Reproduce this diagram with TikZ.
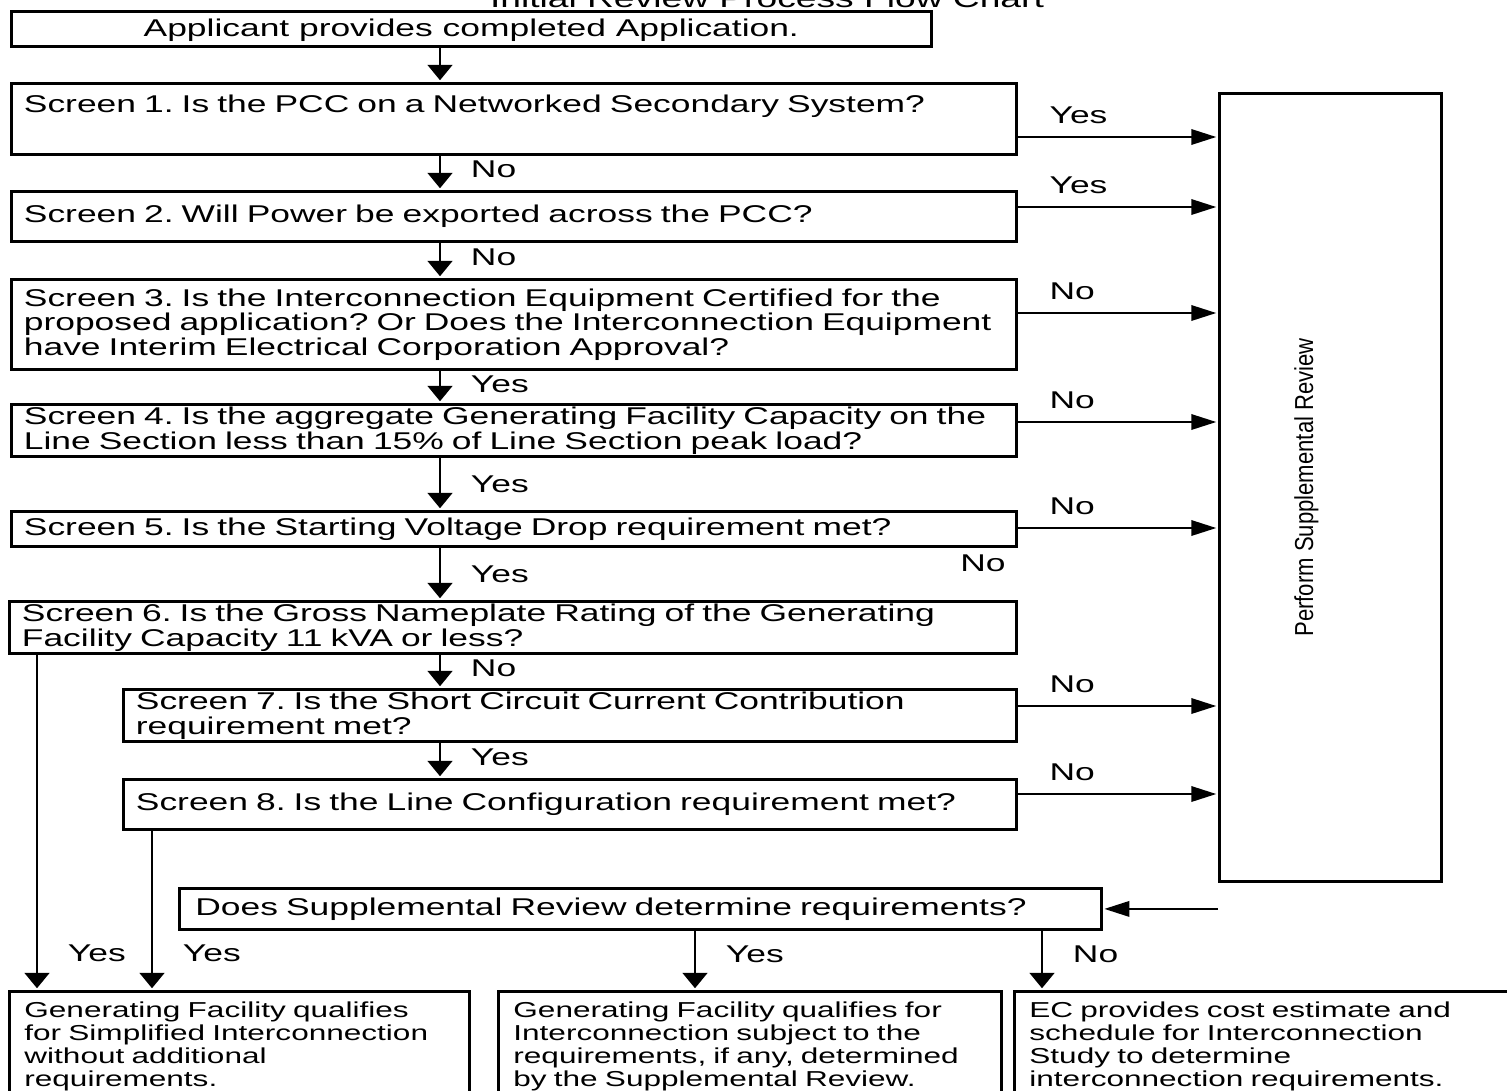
\documentclass[tikz,border=0pt]{standalone}
\usepackage{fontspec}
\setmainfont{Liberation Sans}[FakeStretch=1.46]
\newfontfamily\narrowsans{Liberation Sans}[FakeStretch=0.85]
\usepackage{graphicx}
\usetikzlibrary{arrows.meta}
\frenchspacing

\newcommand{\screenfont}{\fontsize{13.8pt}{14pt}\selectfont}
\newcommand{\resultfont}{\fontsize{12.3pt}{13pt}\selectfont}
\newcommand{\headfont}{\fontsize{14.5pt}{16pt}\selectfont}
\newcommand{\psrfont}{\narrowsans\fontsize{14.8pt}{16pt}\selectfont}

\tikzset{
  screen/.style={draw, line width=1.6pt, anchor=north west, align=left,
                 inner xsep=0.25cm, inner ysep=0.05cm, text width=19.6cm},
  result/.style={draw, line width=1.6pt, anchor=north west, align=left,
                 inner xsep=0.3cm, inner ysep=0.13cm, minimum height=2.2cm, font=\resultfont},
  lbl/.style={inner sep=0pt, text depth=0pt},
  vlbl/.style={lbl, inner xsep=0.6cm},
  hlbl/.style={lbl, anchor=south west, yshift=0.26cm, pos=0.155},
  across/.style={-{Triangle[length=0.5cm, width=0.31cm]}}
}

\begin{document}
\begin{tikzpicture}[x=0.02cm, y=-0.02cm, ->, >={Triangle[length=0.31cm, width=0.5cm]},
                    shorten >=1pt, auto, line width=1.1pt, font=\screenfont]

  \useasboundingbox (0,0) rectangle (1507,1090);

  \node[font=\headfont, anchor=base] (title) at (767,7) {Initial Review Process Flow Chart};

  \node[draw, line width=1.6pt, anchor=north west, inner sep=0pt, text depth=0.05cm,
        minimum width=18.4cm, minimum height=0.7cm] (app) at (10,10) {Applicant provides completed Application.};

  % screens
  \node[screen, minimum height=1.42cm, text height=0.54cm, text depth=0.78cm] (s1) at (10,82)
    {Screen 1. Is the PCC on a Networked Secondary System?};
  \node[screen, minimum height=1.0cm] (s2) at (10,190)
    {Screen 2. Will Power be exported across the PCC?};
  \node[screen, minimum height=1.8cm] (s3) at (10,278)
    {Screen 3. Is the Interconnection Equipment Certified for the\\
     proposed application? Or Does the Interconnection Equipment\\
     have Interim Electrical Corporation Approval?};
  \node[screen, minimum height=1.04cm] (s4) at (10,403)
    {Screen 4. Is the aggregate Generating Facility Capacity on the\\
     Line Section less than 15\% of Line Section peak load?};
  \node[screen, minimum height=0.7cm] (s5) at (10,510)
    {Screen 5. Is the Starting Voltage Drop requirement met?};
  \node[screen, minimum height=1.04cm, text width=19.64cm] (s6) at (8,600)
    {Screen 6. Is the Gross Nameplate Rating of the Generating\\
     Facility Capacity 11 kVA or less?};
  \node[screen, minimum height=1.04cm, text width=17.36cm] (s7) at (122,688)
    {Screen 7. Is the Short Circuit Current Contribution\\
     requirement met?};
  \node[screen, minimum height=1.0cm, text width=17.36cm] (s8) at (122,778)
    {Screen 8. Is the Line Configuration requirement met?};

  \node[draw, line width=1.6pt, anchor=north west, inner sep=0pt,
        minimum width=4.44cm, minimum height=15.76cm, font=\psrfont] (psr) at (1218,92)
    {\rotatebox{90}{Perform Supplemental Review}\hspace*{0.96cm}};

  \node[screen, minimum height=0.82cm, inner xsep=0.32cm, text width=17.8cm] (does) at (178,887)
    {Does Supplemental Review determine requirements?};

  % outcomes
  \node[result, text width=8.6cm] (gfa) at (8,990)
    {Generating Facility qualifies\\ for Simplified Interconnection\\ without additional\\ requirements.};
  \node[result, text width=9.46cm] (gfb) at (497,990)
    {Generating Facility qualifies for\\ Interconnection subject to the\\ requirements, if any, determined\\ by the Supplemental Review.};
  \node[result, text width=9.4cm] (gfc) at (1013,990)
    {EC provides cost estimate and\\ schedule for Interconnection\\ Study to determine\\ interconnection requirements.};

  \node[lbl] (strayno) at (983,563) {No};

  \coordinate (spine) at (440,0);
  \coordinate (leftcol) at (37,0);
  \coordinate (midcol) at (152,0);
  \coordinate (yescol) at (695,0);
  \coordinate (nocol) at (1042,0);

  \path (app.south -| spine) edge (s1.north -| spine)
        (s1.south -| spine) edge node[vlbl, pos=0.4] {No} (s2.north -| spine)
        (s2.south -| spine) edge node[vlbl, pos=0.4] {No} (s3.north -| spine)
        (s3.south -| spine) edge node[vlbl, pos=0.4] {Yes} (s4.north -| spine)
        (s4.south -| spine) edge node[vlbl] {Yes} (s5.north -| spine)
        (s5.south -| spine) edge node[vlbl] {Yes} (s6.north -| spine)
        (s6.south -| spine) edge node[vlbl, pos=0.4] {No} (s7.north -| spine)
        (s7.south -| spine) edge node[vlbl, pos=0.4] {Yes} (s8.north -| spine)
        (s6.south -| leftcol) edge node[vlbl, pos=0.89] {Yes} (gfa.north -| leftcol)
        (s8.south -| midcol) edge node[vlbl, pos=0.77] {Yes} (gfa.north -| midcol)
        (does.south -| yescol) edge node[vlbl, pos=0.4] {Yes} (gfb.north -| yescol)
        (does.south -| nocol) edge node[vlbl, pos=0.4] {No} (gfc.north -| nocol);

  \draw[across] ([yshift=-1.1cm]s1.north east) coordinate (y1) -- (y1 -| psr.west) node[hlbl] {Yes};
  \draw[across] ([yshift=-0.34cm]s2.north east) coordinate (y2) -- (y2 -| psr.west) node[hlbl] {Yes};
  \draw[across] ([yshift=-0.7cm]s3.north east) coordinate (y3) -- (y3 -| psr.west) node[hlbl] {No};
  \draw[across] ([yshift=-0.38cm]s4.north east) coordinate (y4) -- (y4 -| psr.west) node[hlbl] {No};
  \draw[across] ([yshift=-0.36cm]s5.north east) coordinate (y5) -- (y5 -| psr.west) node[hlbl] {No};
  \draw[across] ([yshift=-0.36cm]s7.north east) coordinate (y7) -- (y7 -| psr.west) node[hlbl] {No};
  \draw[across] ([yshift=-0.32cm]s8.north east) coordinate (y8) -- (y8 -| psr.west) node[hlbl] {No};
  \draw[across] (psr.west |- does.east) -- (does.east);

\end{tikzpicture}
\end{document}
